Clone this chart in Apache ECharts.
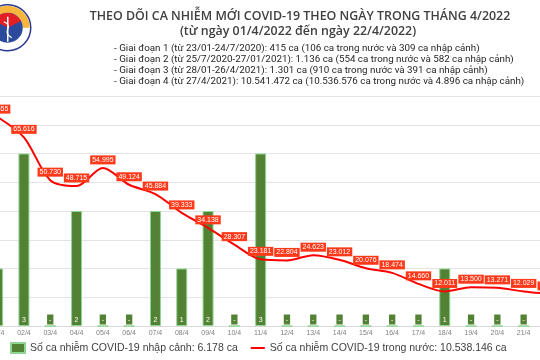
<!DOCTYPE html>
<html>
<head>
<meta charset="utf-8">
<script src="https://cdn.jsdelivr.net/npm/echarts@6/dist/echarts.min.js"></script>
<style>
html,body{margin:0;padding:0;background:#fff;overflow:hidden;}
#main{width:540px;height:360px;}
</style>
</head>
<body>
<div id="main"></div>
<script>
const categories = ['01/4','02/4','03/4','04/4','05/4','06/4','07/4','08/4','09/4','10/4','11/4','12/4','13/4','14/4','15/4','16/4','17/4','18/4','19/4','20/4','21/4','22/4'];
const importedCases = [1,3,0,2,0,0,2,1,2,0,3,0,0,0,0,0,0,1,0,0,0,0];
const domesticCases = [72655,65616,50730,48715,54995,49124,45884,39333,34138,28307,23181,22804,24623,23012,20076,18474,14660,12011,13500,13271,12029,11152];
const seriesNames = ['Số ca nhiễm COVID-19 nhập cảnh: 6.178 ca','Số ca nhiễm COVID-19 trong nước: 10.538.146 ca'];
const titleLine1 = 'THEO DÕI CA NHIỄM MỚI COVID-19 THEO NGÀY TRONG THÁNG 4/2022';
const titleLine2 = '(từ ngày 01/4/2022 đến ngày 22/4/2022)';
const periodLines = [
  '- Giai đoạn 1 (từ 23/01-24/7/2020): 415 ca (106 ca trong nước và 309 ca nhập cảnh)',
  '- Giai đoạn 2 (từ 25/7/2020-27/01/2021): 1.136 ca (554 ca trong nước và 582 ca nhập cảnh)',
  '- Giai đoạn 3 (từ 28/01-26/4/2021): 1.301 ca (910 ca trong nước và 391 ca nhập cảnh)',
  '- Giai đoạn 4 (từ 27/4/2021): 10.541.472 ca (10.536.576 ca trong nước và 4.896 ca nhập cảnh)'
];

function fmtDot(v){
  const s = String(Math.round(v));
  return s.replace(/\B(?=(\d{3})+(?!\d))/g, '.');
}

const barData = importedCases.map(v => v === 0
  ? {value: v, label: {backgroundColor: '#548235', padding: [2, 2, 1, 2]}}
  : {value: v});

const chart = echarts.init(document.getElementById('main'), null, {renderer: 'canvas'});
chart.setOption({
  animation: false,
  backgroundColor: '#ffffff',
  title: [
    {text: titleLine1, left: 300, top: 10, textAlign: 'center', padding: 0,
     textStyle: {fontFamily: 'Open Sans', fontSize: 12.4, fontWeight: 600, color: '#404040'}},
    {text: titleLine2, left: 298, top: 25, textAlign: 'center', padding: 0,
     textStyle: {fontFamily: 'Open Sans', fontSize: 12.4, fontWeight: 600, color: '#404040'}},
    {text: periodLines.join('\n'), left: 114, top: 43, padding: 0,
     textStyle: {fontFamily: 'Roboto', fontSize: 9.8, fontWeight: 'normal', color: '#262626', lineHeight: 11}}
  ],
  graphic: [
    {type: 'group', left: -16, top: 4, children: [
      {type: 'circle', shape: {cx: 22, cy: 23, r: 23}, style: {fill: '#ffffff', stroke: '#2B3990', lineWidth: 1.5}},
      {type: 'sector', shape: {cx: 22, cy: 23, r: 22, r0: 15, startAngle: Math.PI, endAngle: 2 * Math.PI}, style: {fill: '#F7B53B'}},
      {type: 'circle', shape: {cx: 22, cy: 23, r: 15}, style: {fill: '#2B4A9B'}},
      {type: 'sector', shape: {cx: 22, cy: 23, r: 15, startAngle: Math.PI * 1.15, endAngle: Math.PI * 1.85}, style: {fill: '#E31E24'}},
      {type: 'line', shape: {x1: 22, y1: 12, x2: 22, y2: 37}, style: {stroke: '#ffffff', lineWidth: 1.5}},
      {type: 'bezierCurve', shape: {x1: 18, y1: 17, x2: 26, y2: 33, cpx1: 30, cpy1: 22, cpx2: 14, cpy2: 26}, style: {stroke: '#ffffff', lineWidth: 1.2, fill: null}}
    ]}
  ],
  legend: {
    left: 10, top: 342, itemWidth: 14, itemHeight: 10, itemGap: 13, width: 530, padding: 0,
    symbolKeepAspect: true,
    textStyle: {fontFamily: 'Liberation Sans', fontSize: 10.5, color: '#404040'},
    data: [{name: seriesNames[0], icon: 'rect'},
           {name: seriesNames[1], icon: 'path://M0,0H14V2H0Z'}]
  },
  grid: {left: -15.5, width: 578.6, top: 96, height: 230, containLabel: false, outerBoundsMode: 'none'},
  xAxis: {
    type: 'category', data: categories, boundaryGap: true,
    axisLine: {show: true, lineStyle: {color: '#D9D9D9'}},
    axisTick: {show: false},
    axisLabel: {fontSize: 7, color: '#7F7F7F', margin: 4, fontFamily: 'Liberation Sans', interval: 0}
  },
  yAxis: [
    {type: 'value', min: 0, max: 4, interval: 0.5,
     axisLabel: {show: false}, axisLine: {show: false}, axisTick: {show: false},
     splitLine: {show: true, lineStyle: {color: '#E3E3E3', width: 1}}},
    {type: 'value', min: 0, max: 80000, interval: 10000,
     axisLabel: {show: false}, axisLine: {show: false}, axisTick: {show: false},
     splitLine: {show: false}}
  ],
  series: [
    {name: seriesNames[0], type: 'bar', yAxisIndex: 0, data: barData, barWidth: 11,
     itemStyle: {color: '#548235', borderColor: '#8FD694', borderWidth: 1},
     label: {show: true, position: 'insideBottom', distance: 2, color: '#ffffff', fontSize: 7,
       fontFamily: 'Liberation Sans',
       formatter: p => p.value === 0 ? '-' : String(p.value)},
     z: 2},
    {name: seriesNames[1], type: 'line', yAxisIndex: 1, data: domesticCases,
     smooth: 0.3, symbol: 'circle', symbolSize: 1, showSymbol: true,
     lineStyle: {color: '#FF0000', width: 2}, itemStyle: {color: '#FF0000'},
     label: {show: true, position: 'top', distance: 3, color: '#ffffff', fontSize: 7,
       fontFamily: 'Liberation Sans', backgroundColor: '#FF3A1A', padding: [1, 2, 1, 2],
       formatter: p => fmtDot(p.value)},
     z: 5}
  ]
});
</script>
</body>
</html>
